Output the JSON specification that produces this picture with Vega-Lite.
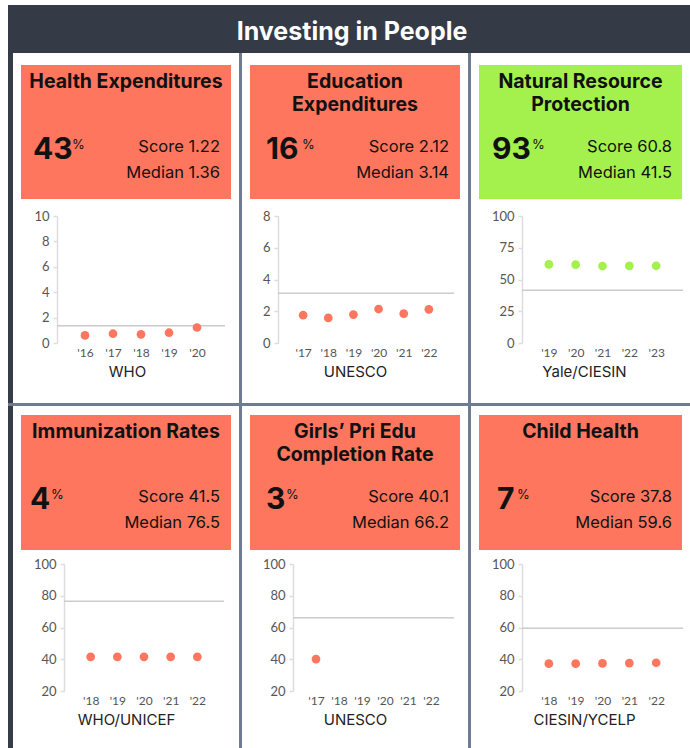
{
  "$schema": "https://vega.github.io/schema/vega-lite/v6.json",
  "background": "#ffffff",
  "padding": {"left": 8, "top": 5, "right": 0, "bottom": 0},
  "autosize": {"type": "pad"},
  "datasets": {
    "ind": [
      {"id": "health", "title": "Health Expenditures", "pct": 43, "score": 1.22, "median": 1.36, "source": "WHO"},
      {"id": "edu", "title": "Education\nExpenditures", "pct": 16, "score": 2.12, "median": 3.14, "source": "UNESCO"},
      {"id": "nat", "title": "Natural Resource\nProtection", "pct": 93, "score": 60.8, "median": 41.5, "source": "Yale/CIESIN"},
      {"id": "imm", "title": "Immunization Rates", "pct": 4, "score": 41.5, "median": 76.5, "source": "WHO/UNICEF"},
      {"id": "girls", "title": "Girls’ Pri Edu\nCompletion Rate", "pct": 3, "score": 40.1, "median": 66.2, "source": "UNESCO"},
      {"id": "child", "title": "Child Health", "pct": 7, "score": 37.8, "median": 59.6, "source": "CIESIN/YCELP"}
    ],
    "obs": [
      {"id": "health", "year": 2016, "value": 0.6},
      {"id": "health", "year": 2017, "value": 0.73},
      {"id": "health", "year": 2018, "value": 0.68},
      {"id": "health", "year": 2019, "value": 0.81},
      {"id": "health", "year": 2020, "value": 1.22},
      {"id": "edu", "year": 2017, "value": 1.75},
      {"id": "edu", "year": 2018, "value": 1.58},
      {"id": "edu", "year": 2019, "value": 1.79},
      {"id": "edu", "year": 2020, "value": 2.14},
      {"id": "edu", "year": 2021, "value": 1.85},
      {"id": "edu", "year": 2022, "value": 2.12},
      {"id": "nat", "year": 2019, "value": 61.9},
      {"id": "nat", "year": 2020, "value": 61.7},
      {"id": "nat", "year": 2021, "value": 60.6},
      {"id": "nat", "year": 2022, "value": 60.7},
      {"id": "nat", "year": 2023, "value": 60.8},
      {"id": "imm", "year": 2018, "value": 41.5},
      {"id": "imm", "year": 2019, "value": 41.5},
      {"id": "imm", "year": 2020, "value": 41.5},
      {"id": "imm", "year": 2021, "value": 41.5},
      {"id": "imm", "year": 2022, "value": 41.5},
      {"id": "girls", "year": 2017, "value": 40.1},
      {"id": "child", "year": 2018, "value": 37.2},
      {"id": "child", "year": 2019, "value": 37.2},
      {"id": "child", "year": 2020, "value": 37.4},
      {"id": "child", "year": 2021, "value": 37.6},
      {"id": "child", "year": 2022, "value": 37.8}
    ]
  },
  "spacing": 0,
  "vconcat": [
    {
      "width": 682, "height": 48,
      "view": {"fill": "#343a46"},
      "data": {"values": [{"t": "Investing in People"}]},
      "mark": {"type": "text", "font": "Inter", "fontWeight": "bold", "fontSize": 25, "color": "#ffffff", "align": "center", "baseline": "alphabetic", "x": 344, "y": 35},
      "encoding": {"text": {"field": "t"}}
    },
    {
      "spacing": 8,
      "hconcat": [
        {"width": 5, "height": 350, "view": {"fill": "#353c48"}, "data": {"values": []}, "mark": "point", "encoding": {}},
        {
          "spacing": 11,
          "vconcat": [
            {"width": 1, "height": 1, "data": {"values": []}, "mark": "point", "encoding": {}},
            {
              "width": 210, "height": 134, "view": {"fill": "#ff765e"},
              "data": {"name": "ind"}, "transform": [{"filter": "datum.id == 'health'"}],
              "layer": [
                {"mark": {"type": "text", "fontWeight": "bold", "fontSize": 19.5, "align": "center", "baseline": "alphabetic", "lineBreak": "\n", "lineHeight": 23, "x": 105, "y": 23}, "encoding": {"text": {"field": "title"}}},
                {"mark": {"type": "text", "fontWeight": "bold", "fontSize": 30, "align": "left", "baseline": "alphabetic", "x": 12, "y": 94}, "encoding": {"text": {"field": "pct", "type": "quantitative"}}},
                {"mark": {"type": "text", "fontSize": 13, "align": "left", "baseline": "alphabetic", "x": 51, "y": 84, "text": "%"}, "encoding": {}},
                {"mark": {"type": "text", "fontSize": 16.5, "align": "right", "baseline": "alphabetic", "x": 199, "y": 87, "text": {"expr": "'Score ' + format(datum.score, '.2f')"}}, "encoding": {}},
                {"mark": {"type": "text", "fontSize": 16.5, "align": "right", "baseline": "alphabetic", "x": 199, "y": 113, "text": {"expr": "'Median ' + format(datum.median, '.2f')"}}, "encoding": {}}
              ]
            },
            {
              "spacing": 0,
              "hconcat": [
                {"width": 12, "height": 1, "data": {"values": []}, "mark": "point", "encoding": {}},
                {
                  "width": 168, "height": 127,
                  "layer": [
                    {"data": {"name": "ind"}, "transform": [{"filter": "datum.id == 'health'"}], "mark": {"type": "rule", "color": "#cccccc", "strokeWidth": 1.5}, "encoding": {"y": {"field": "median", "type": "quantitative", "scale": {"domain": [0, 10], "nice": false, "zero": false}, "axis": {"values": [0, 2, 4, 6, 8, 10], "title": null}}}},
                    {"data": {"name": "obs"}, "transform": [{"filter": "datum.id == 'health'"}], "mark": {"type": "circle", "size": 76, "opacity": 1, "color": "#ff765e"},
                     "encoding": {
                       "x": {"field": "year", "type": "ordinal", "scale": {"type": "point", "padding": 1, "domain": [2016, 2017, 2018, 2019, 2020]}, "axis": {"title": "WHO", "titleX": 70, "labelExpr": "\"'\" + substring(datum.label, 2, 4)"}},
                       "y": {"field": "value", "type": "quantitative", "scale": {"domain": [0, 10], "nice": false, "zero": false}, "axis": {"values": [0, 2, 4, 6, 8, 10], "title": null}}
                     }}
                  ]
                }
              ]
            }
          ]
        },
        {"width": 3, "height": 350, "view": {"fill": "#6f7b91"}, "data": {"values": []}, "mark": "point", "encoding": {}},
        {
          "spacing": 11,
          "vconcat": [
            {"width": 1, "height": 1, "data": {"values": []}, "mark": "point", "encoding": {}},
            {
              "width": 210, "height": 134, "view": {"fill": "#ff765e"},
              "data": {"name": "ind"}, "transform": [{"filter": "datum.id == 'edu'"}],
              "layer": [
                {"mark": {"type": "text", "fontWeight": "bold", "fontSize": 19.5, "align": "center", "baseline": "alphabetic", "lineBreak": "\n", "lineHeight": 23, "x": 105, "y": 23}, "encoding": {"text": {"field": "title"}}},
                {"mark": {"type": "text", "fontWeight": "bold", "fontSize": 30, "align": "left", "baseline": "alphabetic", "x": 16, "y": 94}, "encoding": {"text": {"field": "pct", "type": "quantitative"}}},
                {"mark": {"type": "text", "fontSize": 13, "align": "left", "baseline": "alphabetic", "x": 52, "y": 84, "text": "%"}, "encoding": {}},
                {"mark": {"type": "text", "fontSize": 16.5, "align": "right", "baseline": "alphabetic", "x": 199, "y": 87, "text": {"expr": "'Score ' + format(datum.score, '.2f')"}}, "encoding": {}},
                {"mark": {"type": "text", "fontSize": 16.5, "align": "right", "baseline": "alphabetic", "x": 199, "y": 113, "text": {"expr": "'Median ' + format(datum.median, '.2f')"}}, "encoding": {}}
              ]
            },
            {
              "spacing": 0,
              "hconcat": [
                {"width": 12, "height": 1, "data": {"values": []}, "mark": "point", "encoding": {}},
                {
                  "width": 176, "height": 127,
                  "layer": [
                    {"data": {"name": "ind"}, "transform": [{"filter": "datum.id == 'edu'"}], "mark": {"type": "rule", "color": "#cccccc", "strokeWidth": 1.5}, "encoding": {"y": {"field": "median", "type": "quantitative", "scale": {"domain": [0, 8], "nice": false, "zero": false}, "axis": {"values": [0, 2, 4, 6, 8], "title": null}}}},
                    {"data": {"name": "obs"}, "transform": [{"filter": "datum.id == 'edu'"}], "mark": {"type": "circle", "size": 76, "opacity": 1, "color": "#ff765e"},
                     "encoding": {
                       "x": {"field": "year", "type": "ordinal", "scale": {"type": "point", "padding": 1, "domain": [2017, 2018, 2019, 2020, 2021, 2022]}, "axis": {"title": "UNESCO", "titleX": 77, "labelExpr": "\"'\" + substring(datum.label, 2, 4)"}},
                       "y": {"field": "value", "type": "quantitative", "scale": {"domain": [0, 8], "nice": false, "zero": false}, "axis": {"values": [0, 2, 4, 6, 8], "title": null}}
                     }}
                  ]
                }
              ]
            }
          ]
        },
        {"width": 3, "height": 350, "view": {"fill": "#6f7b91"}, "data": {"values": []}, "mark": "point", "encoding": {}},
        {
          "spacing": 11,
          "vconcat": [
            {"width": 1, "height": 1, "data": {"values": []}, "mark": "point", "encoding": {}},
            {
              "width": 203, "height": 134, "view": {"fill": "#a4f04c"},
              "data": {"name": "ind"}, "transform": [{"filter": "datum.id == 'nat'"}],
              "layer": [
                {"mark": {"type": "text", "fontWeight": "bold", "fontSize": 19.5, "align": "center", "baseline": "alphabetic", "lineBreak": "\n", "lineHeight": 23, "x": 101.5, "y": 23}, "encoding": {"text": {"field": "title"}}},
                {"mark": {"type": "text", "fontWeight": "bold", "fontSize": 30, "align": "left", "baseline": "alphabetic", "x": 13, "y": 94}, "encoding": {"text": {"field": "pct", "type": "quantitative"}}},
                {"mark": {"type": "text", "fontSize": 13, "align": "left", "baseline": "alphabetic", "x": 53, "y": 84, "text": "%"}, "encoding": {}},
                {"mark": {"type": "text", "fontSize": 16.5, "align": "right", "baseline": "alphabetic", "x": 193, "y": 87, "text": {"expr": "'Score ' + format(datum.score, '.1f')"}}, "encoding": {}},
                {"mark": {"type": "text", "fontSize": 16.5, "align": "right", "baseline": "alphabetic", "x": 193, "y": 113, "text": {"expr": "'Median ' + format(datum.median, '.1f')"}}, "encoding": {}}
              ]
            },
            {
              "spacing": 0,
              "hconcat": [
                {"width": 12, "height": 1, "data": {"values": []}, "mark": "point", "encoding": {}},
                {
                  "width": 161, "height": 127,
                  "layer": [
                    {"data": {"name": "ind"}, "transform": [{"filter": "datum.id == 'nat'"}], "mark": {"type": "rule", "color": "#cccccc", "strokeWidth": 1.5}, "encoding": {"y": {"field": "median", "type": "quantitative", "scale": {"domain": [0, 100], "nice": false, "zero": false}, "axis": {"values": [0, 25, 50, 75, 100], "title": null}}}},
                    {"data": {"name": "obs"}, "transform": [{"filter": "datum.id == 'nat'"}], "mark": {"type": "circle", "size": 76, "opacity": 1, "color": "#a4f04c"},
                     "encoding": {
                       "x": {"field": "year", "type": "ordinal", "scale": {"type": "point", "padding": 1, "domain": [2019, 2020, 2021, 2022, 2023]}, "axis": {"title": "Yale/CIESIN", "titleX": 62, "labelExpr": "\"'\" + substring(datum.label, 2, 4)"}},
                       "y": {"field": "value", "type": "quantitative", "scale": {"domain": [0, 100], "nice": false, "zero": false}, "axis": {"values": [0, 25, 50, 75, 100], "title": null}}
                     }}
                  ]
                }
              ]
            }
          ]
        }
      ]
    },
    {"width": 682, "height": 3, "view": {"fill": "#6f7b91"}, "data": {"values": []}, "mark": "point", "encoding": {}},
    {
      "spacing": 8,
      "hconcat": [
        {"width": 5, "height": 342, "view": {"fill": "#353c48"}, "data": {"values": []}, "mark": "point", "encoding": {}},
        {
          "spacing": 8,
          "vconcat": [
            {"width": 1, "height": 1, "data": {"values": []}, "mark": "point", "encoding": {}},
            {
              "width": 210, "height": 135, "view": {"fill": "#ff765e"},
              "data": {"name": "ind"}, "transform": [{"filter": "datum.id == 'imm'"}],
              "layer": [
                {"mark": {"type": "text", "fontWeight": "bold", "fontSize": 19.5, "align": "center", "baseline": "alphabetic", "lineBreak": "\n", "lineHeight": 23, "x": 105, "y": 23}, "encoding": {"text": {"field": "title"}}},
                {"mark": {"type": "text", "fontWeight": "bold", "fontSize": 30, "align": "left", "baseline": "alphabetic", "x": 9, "y": 94}, "encoding": {"text": {"field": "pct", "type": "quantitative"}}},
                {"mark": {"type": "text", "fontSize": 13, "align": "left", "baseline": "alphabetic", "x": 30, "y": 84, "text": "%"}, "encoding": {}},
                {"mark": {"type": "text", "fontSize": 16.5, "align": "right", "baseline": "alphabetic", "x": 199, "y": 87, "text": {"expr": "'Score ' + format(datum.score, '.1f')"}}, "encoding": {}},
                {"mark": {"type": "text", "fontSize": 16.5, "align": "right", "baseline": "alphabetic", "x": 199, "y": 113, "text": {"expr": "'Median ' + format(datum.median, '.1f')"}}, "encoding": {}}
              ]
            },
            {
              "spacing": 0,
              "hconcat": [
                {"width": 12, "height": 1, "data": {"values": []}, "mark": "point", "encoding": {}},
                {
                  "width": 160, "height": 127,
                  "layer": [
                    {"data": {"name": "ind"}, "transform": [{"filter": "datum.id == 'imm'"}], "mark": {"type": "rule", "color": "#cccccc", "strokeWidth": 1.5}, "encoding": {"y": {"field": "median", "type": "quantitative", "scale": {"domain": [20, 100], "nice": false, "zero": false}, "axis": {"values": [20, 40, 60, 80, 100], "title": null}}}},
                    {"data": {"name": "obs"}, "transform": [{"filter": "datum.id == 'imm'"}], "mark": {"type": "circle", "size": 76, "opacity": 1, "color": "#ff765e"},
                     "encoding": {
                       "x": {"field": "year", "type": "ordinal", "scale": {"type": "point", "padding": 1, "domain": [2018, 2019, 2020, 2021, 2022]}, "axis": {"title": "WHO/UNICEF", "titleX": 62, "labelExpr": "\"'\" + substring(datum.label, 2, 4)"}},
                       "y": {"field": "value", "type": "quantitative", "scale": {"domain": [20, 100], "nice": false, "zero": false}, "axis": {"values": [20, 40, 60, 80, 100], "title": null}}
                     }}
                  ]
                }
              ]
            }
          ]
        },
        {"width": 3, "height": 342, "view": {"fill": "#6f7b91"}, "data": {"values": []}, "mark": "point", "encoding": {}},
        {
          "spacing": 8,
          "vconcat": [
            {"width": 1, "height": 1, "data": {"values": []}, "mark": "point", "encoding": {}},
            {
              "width": 210, "height": 135, "view": {"fill": "#ff765e"},
              "data": {"name": "ind"}, "transform": [{"filter": "datum.id == 'girls'"}],
              "layer": [
                {"mark": {"type": "text", "fontWeight": "bold", "fontSize": 19.5, "align": "center", "baseline": "alphabetic", "lineBreak": "\n", "lineHeight": 23, "x": 105, "y": 23}, "encoding": {"text": {"field": "title"}}},
                {"mark": {"type": "text", "fontWeight": "bold", "fontSize": 30, "align": "left", "baseline": "alphabetic", "x": 16, "y": 94}, "encoding": {"text": {"field": "pct", "type": "quantitative"}}},
                {"mark": {"type": "text", "fontSize": 13, "align": "left", "baseline": "alphabetic", "x": 36, "y": 84, "text": "%"}, "encoding": {}},
                {"mark": {"type": "text", "fontSize": 16.5, "align": "right", "baseline": "alphabetic", "x": 199, "y": 87, "text": {"expr": "'Score ' + format(datum.score, '.1f')"}}, "encoding": {}},
                {"mark": {"type": "text", "fontSize": 16.5, "align": "right", "baseline": "alphabetic", "x": 199, "y": 113, "text": {"expr": "'Median ' + format(datum.median, '.1f')"}}, "encoding": {}}
              ]
            },
            {
              "spacing": 0,
              "hconcat": [
                {"width": 12, "height": 1, "data": {"values": []}, "mark": "point", "encoding": {}},
                {
                  "width": 161, "height": 127,
                  "layer": [
                    {"data": {"name": "ind"}, "transform": [{"filter": "datum.id == 'girls'"}], "mark": {"type": "rule", "color": "#cccccc", "strokeWidth": 1.5}, "encoding": {"y": {"field": "median", "type": "quantitative", "scale": {"domain": [20, 100], "nice": false, "zero": false}, "axis": {"values": [20, 40, 60, 80, 100], "title": null}}}},
                    {"data": {"name": "obs"}, "transform": [{"filter": "datum.id == 'girls'"}], "mark": {"type": "circle", "size": 76, "opacity": 1, "color": "#ff765e"},
                     "encoding": {
                       "x": {"field": "year", "type": "ordinal", "scale": {"type": "point", "padding": 1, "domain": [2017, 2018, 2019, 2020, 2021, 2022]}, "axis": {"title": "UNESCO", "titleX": 62, "labelExpr": "\"'\" + substring(datum.label, 2, 4)"}},
                       "y": {"field": "value", "type": "quantitative", "scale": {"domain": [20, 100], "nice": false, "zero": false}, "axis": {"values": [20, 40, 60, 80, 100], "title": null}}
                     }}
                  ]
                }
              ]
            }
          ]
        },
        {"width": 3, "height": 342, "view": {"fill": "#6f7b91"}, "data": {"values": []}, "mark": "point", "encoding": {}},
        {
          "spacing": 8,
          "vconcat": [
            {"width": 1, "height": 1, "data": {"values": []}, "mark": "point", "encoding": {}},
            {
              "width": 203, "height": 135, "view": {"fill": "#ff765e"},
              "data": {"name": "ind"}, "transform": [{"filter": "datum.id == 'child'"}],
              "layer": [
                {"mark": {"type": "text", "fontWeight": "bold", "fontSize": 19.5, "align": "center", "baseline": "alphabetic", "lineBreak": "\n", "lineHeight": 23, "x": 101.5, "y": 23}, "encoding": {"text": {"field": "title"}}},
                {"mark": {"type": "text", "fontWeight": "bold", "fontSize": 30, "align": "left", "baseline": "alphabetic", "x": 18, "y": 94}, "encoding": {"text": {"field": "pct", "type": "quantitative"}}},
                {"mark": {"type": "text", "fontSize": 13, "align": "left", "baseline": "alphabetic", "x": 38, "y": 84, "text": "%"}, "encoding": {}},
                {"mark": {"type": "text", "fontSize": 16.5, "align": "right", "baseline": "alphabetic", "x": 193, "y": 87, "text": {"expr": "'Score ' + format(datum.score, '.1f')"}}, "encoding": {}},
                {"mark": {"type": "text", "fontSize": 16.5, "align": "right", "baseline": "alphabetic", "x": 193, "y": 113, "text": {"expr": "'Median ' + format(datum.median, '.1f')"}}, "encoding": {}}
              ]
            },
            {
              "spacing": 0,
              "hconcat": [
                {"width": 12, "height": 1, "data": {"values": []}, "mark": "point", "encoding": {}},
                {
                  "width": 161, "height": 127,
                  "layer": [
                    {"data": {"name": "ind"}, "transform": [{"filter": "datum.id == 'child'"}], "mark": {"type": "rule", "color": "#cccccc", "strokeWidth": 1.5}, "encoding": {"y": {"field": "median", "type": "quantitative", "scale": {"domain": [20, 100], "nice": false, "zero": false}, "axis": {"values": [20, 40, 60, 80, 100], "title": null}}}},
                    {"data": {"name": "obs"}, "transform": [{"filter": "datum.id == 'child'"}], "mark": {"type": "circle", "size": 76, "opacity": 1, "color": "#ff765e"},
                     "encoding": {
                       "x": {"field": "year", "type": "ordinal", "scale": {"type": "point", "padding": 1, "domain": [2018, 2019, 2020, 2021, 2022]}, "axis": {"title": "CIESIN/YCELP", "titleX": 62, "labelExpr": "\"'\" + substring(datum.label, 2, 4)"}},
                       "y": {"field": "value", "type": "quantitative", "scale": {"domain": [20, 100], "nice": false, "zero": false}, "axis": {"values": [20, 40, 60, 80, 100], "title": null}}
                     }}
                  ]
                }
              ]
            }
          ]
        }
      ]
    }
  ],
  "config": {
    "view": {"stroke": null},
    "text": {"font": "Inter", "color": "#111111"},
    "axis": {"grid": false, "labelFont": "Lato", "labelColor": "#555555", "titleFont": "Inter", "titleFontWeight": "normal", "titleColor": "#222222", "titleFontSize": 15, "domainColor": "#dddddd", "tickColor": "#dddddd"},
    "axisY": {"labelFontSize": 13, "tickSize": 4, "labelPadding": 4, "domainWidth": 1.5, "tickWidth": 1.5},
    "axisX": {"labelFontSize": 12, "domain": false, "ticks": false, "tickSize": 0, "labelPadding": 4, "titlePadding": 6, "labelAngle": 0}
  }
}
